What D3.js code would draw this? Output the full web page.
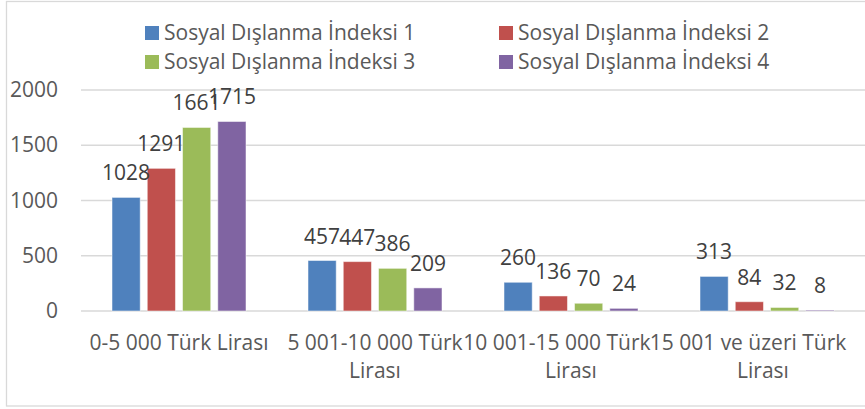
<!DOCTYPE html>
<html>
<head>
<meta charset="utf-8">
<script src="https://cdn.jsdelivr.net/npm/d3@7"></script>
<style>
  body { margin: 0; background: #fff; }
  text { font-family: "Open Sans", sans-serif; }
</style>
</head>
<body>
<div id="chart"></div>
<script>
// données
const categories = ["0-5 000 Türk Lirası", "5 001-10 000 Türk Lirası", "10 001-15 000 Türk Lirası", "15 001 ve üzeri Türk Lirası"]
const catLines = [["0-5 000 Türk Lirası"], ["5 001-10 000 Türk", "Lirası"], ["10 001-15 000 Türk", "Lirası"], ["15 001 ve üzeri Türk", "Lirası"]]
const series = ["Sosyal Dışlanma İndeksi 1", "Sosyal Dışlanma İndeksi 2", "Sosyal Dışlanma İndeksi 3", "Sosyal Dışlanma İndeksi 4"]
const indeks1 = [1028, 457, 260, 313]
const indeks2 = [1291, 447, 136, 84]
const indeks3 = [1661, 386, 70, 32]
const indeks4 = [1715, 209, 24, 8]
const yTicks = [0, 500, 1000, 1500, 2000]
const colors = ["#4F81BD", "#C0504D", "#9BBB59", "#8064A2"]

const values = [indeks1, indeks2, indeks3, indeks4]

const W = 865, H = 409
const margin = {top: 90, right: 0, bottom: 98, left: 81}
const fs = "21px"

const svg = d3.select("#chart").append("svg")
    .attr("width", W)
    .attr("height", H)

// cadre
svg.append("rect")
    .attr("x", 6.5).attr("y", 1.5)
    .attr("width", W + 10).attr("height", 404.5)
    .attr("fill", "none")
    .attr("stroke", "#D9D9D9")
    .attr("stroke-width", 1.3)

const x0 = d3.scaleBand()
    .domain(categories)
    .range([margin.left, W - margin.right])
    .padding(0)

const x1 = d3.scaleBand()
    .domain(series)
    .range([31, x0.bandwidth() - 31])
    .paddingInner(0.2)

const y = d3.scaleLinear()
    .domain([0, 2000])
    .range([H - margin.bottom, margin.top])

// grille
svg.append("g")
    .selectAll("line")
    .data(yTicks)
    .join("line")
    .attr("x1", margin.left)
    .attr("x2", W)
    .attr("y1", d => y(d))
    .attr("y2", d => y(d))
    .attr("stroke", "#D9D9D9")
    .attr("stroke-width", 1.5)

// axe y
const yAxis = svg.append("g")
    .attr("transform", "translate(" + (margin.left - 23) + ",0)")
    .call(d3.axisLeft(y).tickValues(yTicks).tickFormat(d3.format("d")).tickSize(0).tickPadding(0))
yAxis.select(".domain").remove()
yAxis.selectAll("text")
    .attr("fill", "#595959")
    .attr("font-size", fs)
    .attr("font-family", "Open Sans, sans-serif")

// barres
const groups = svg.append("g")
    .selectAll("g")
    .data(categories)
    .join("g")
    .attr("transform", d => "translate(" + x0(d) + ",0)")

groups.selectAll("rect")
    .data((d, i) => series.map((s, j) => ({s: s, j: j, v: values[j][i]})))
    .join("rect")
    .attr("x", d => x1(d.s))
    .attr("y", d => y(d.v))
    .attr("width", x1.bandwidth())
    .attr("height", d => y(0) - y(d.v))
    .attr("fill", d => colors[d.j])
    .attr("stroke", "#fff")
    .attr("stroke-opacity", 0.5)
    .attr("stroke-width", 1)

// étiquettes des valeurs
groups.selectAll("text.val")
    .data((d, i) => series.map((s, j) => ({s: s, j: j, v: values[j][i]})))
    .join("text")
    .attr("class", "val")
    .attr("x", d => x1(d.s) + x1.bandwidth() / 2)
    .attr("y", d => y(d.v) - 17)
    .attr("text-anchor", "middle")
    .attr("fill", "#404040")
    .attr("font-size", fs)
    .text(d => d.v)

// étiquettes des catégories
const catShift = [0, 0, -14, -19]
svg.append("g")
    .selectAll("text")
    .data(categories)
    .join("text")
    .attr("text-anchor", "middle")
    .attr("fill", "#595959")
    .attr("font-size", fs)
    .each(function(d, i) {
        const cx = x0(d) + x0.bandwidth() / 2
        catLines[i].forEach((line, k) => {
            d3.select(this).append("tspan")
                .attr("x", k === 0 ? cx + catShift[i] : cx + (i === 3 ? -4 : 0))
                .attr("y", 350 + k * 28)
                .text(line)
        })
    })

// légende
const legend = svg.append("g")
    .selectAll("g")
    .data(series)
    .join("g")
    .attr("transform", (d, i) => "translate(" + (145 + (i % 2) * 354) + "," + (26 + Math.floor(i / 2) * 29) + ")")

legend.append("rect")
    .attr("width", 14)
    .attr("height", 14)
    .attr("fill", (d, i) => colors[i])

legend.append("text")
    .attr("x", 19)
    .attr("y", 14)
    .attr("fill", "#595959")
    .attr("font-size", fs)
    .text(d => d)
</script>
</body>
</html>
